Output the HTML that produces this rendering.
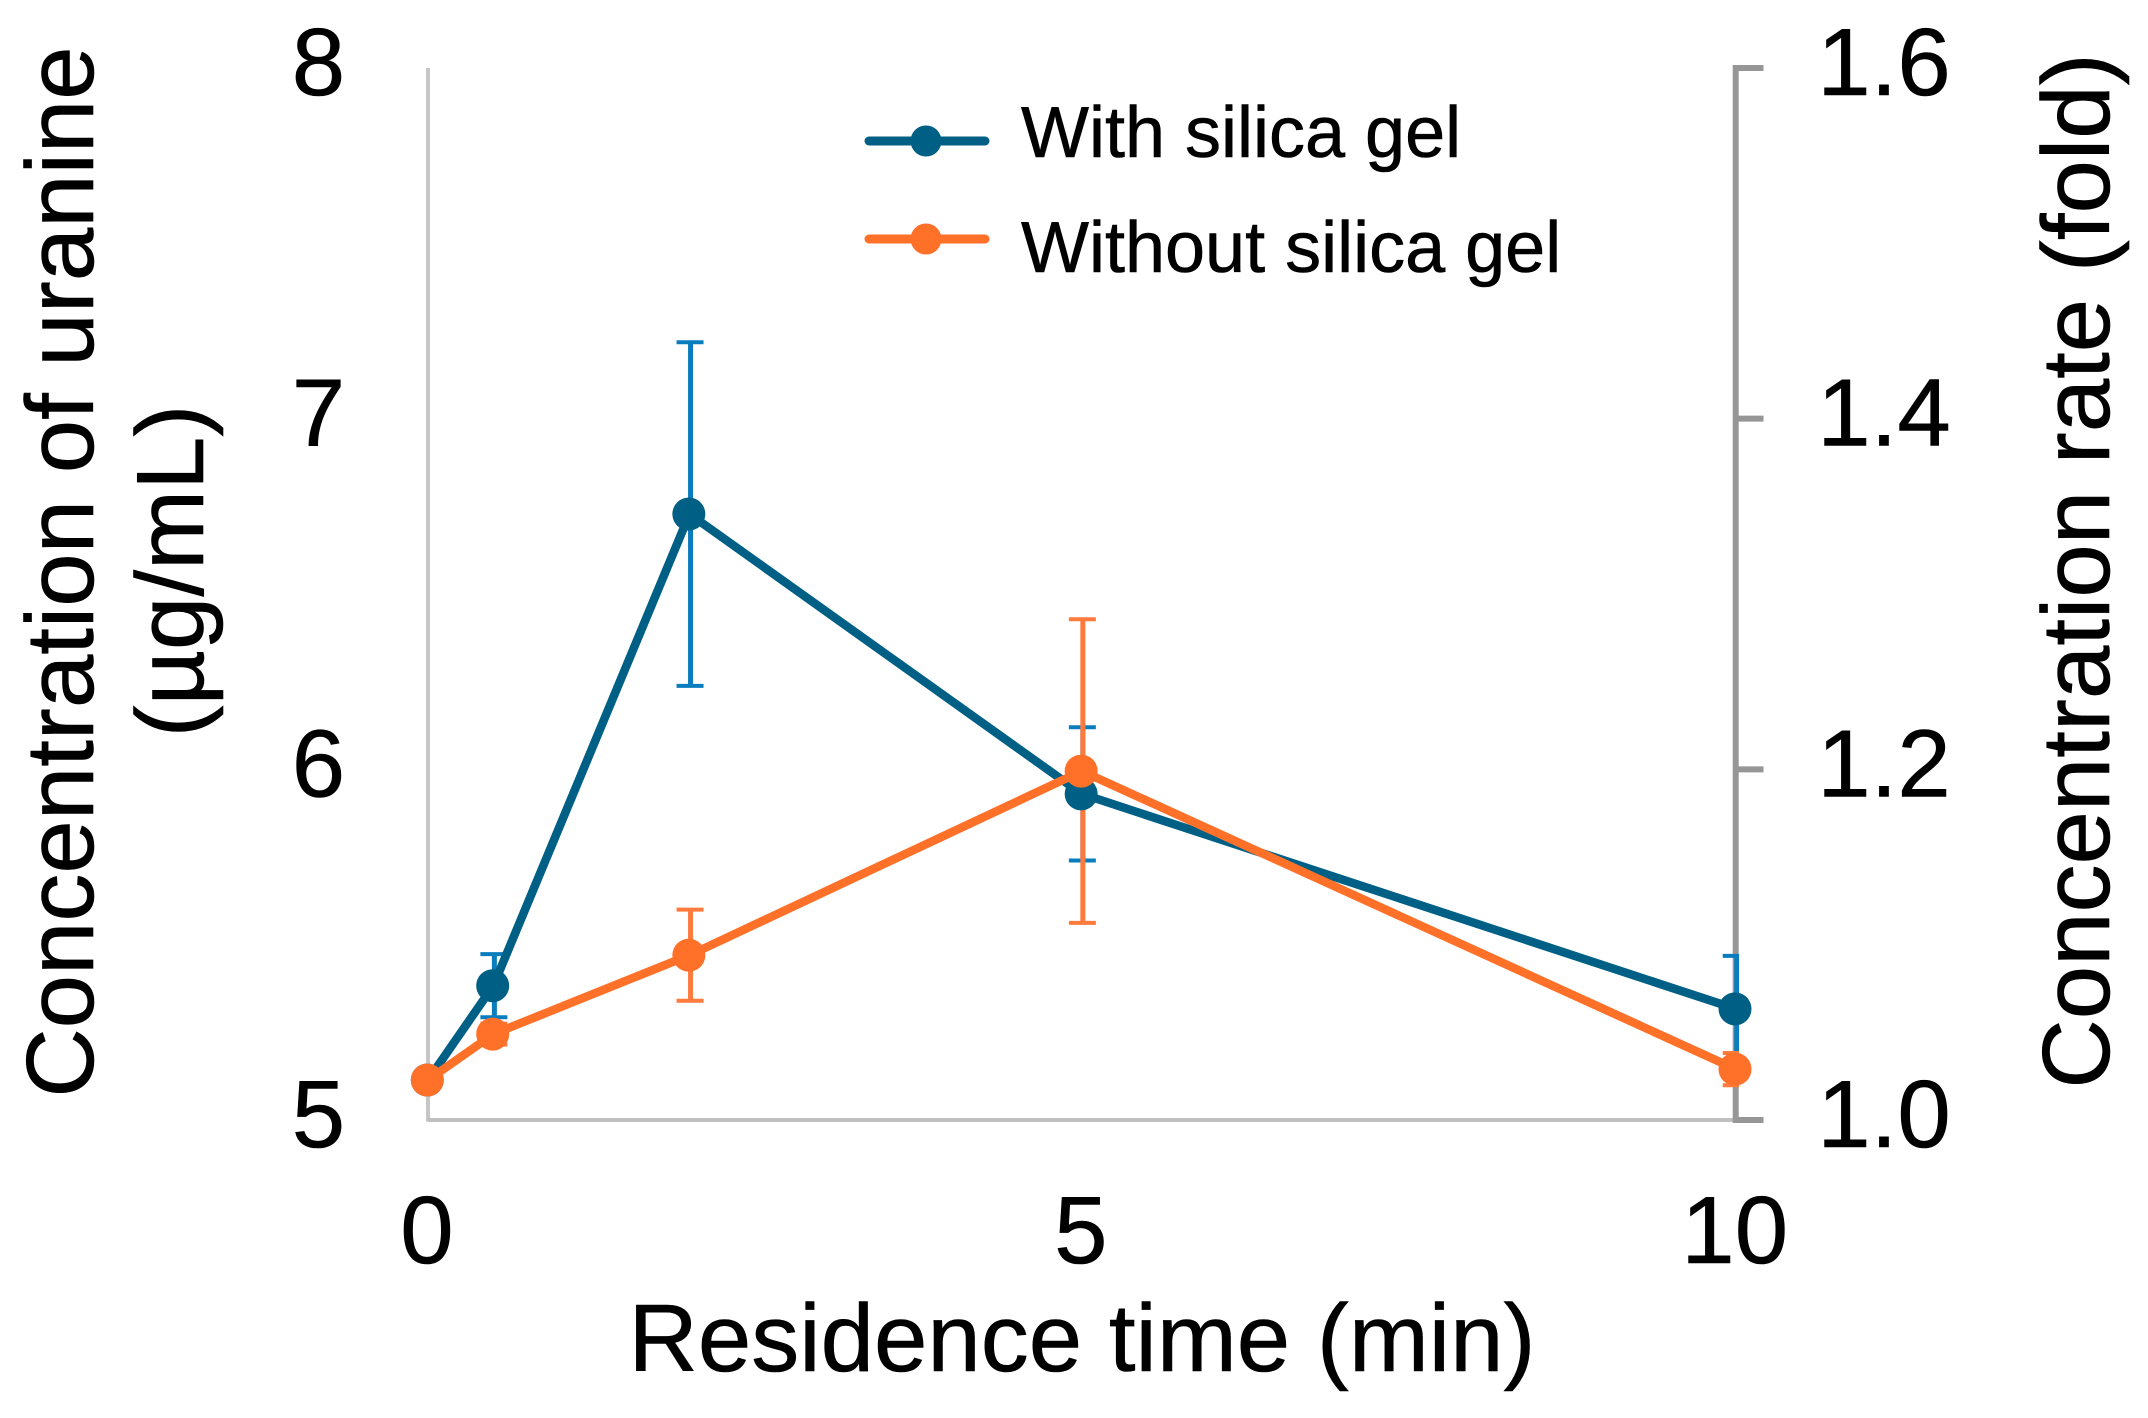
<!DOCTYPE html>
<html lang="en">
<head>
<meta charset="utf-8">
<title>Concentration of uranine vs residence time</title>
<style>
html,body{margin:0;padding:0;background:#fff;}
svg{display:block;}
text{font-family:"Liberation Sans",Arial,sans-serif;fill:#000;stroke:#000;stroke-width:0.6px;}
</style>
</head>
<body>
<svg id="chart" width="2148" height="1418" viewBox="0 0 2148 1418" xmlns="http://www.w3.org/2000/svg">
  <defs>
    <clipPath id="plot-clip"><rect x="380" y="0" width="1359" height="1418"/></clipPath>
  </defs>
  <rect x="0" y="0" width="2148" height="1418" fill="#ffffff"/>
  <g id="axes"></g>
  <g id="errors" clip-path="url(#plot-clip)"></g>
  <g id="series"></g>
  <g id="tick-labels" font-size="96"></g>

  <text transform="translate(93,572) rotate(-90)" text-anchor="middle" font-size="96">Concentration of uranine</text>
  <text transform="translate(203,571) rotate(-90)" text-anchor="middle" font-size="96">(µg/mL)</text>
  <text transform="translate(2109,571) rotate(-90)" text-anchor="middle" font-size="96">Concentration rate (fold)</text>
  <text x="1082" y="1371" text-anchor="middle" font-size="96">Residence time (min)</text>

  <g>
    <g>
      <line x1="869" y1="141" x2="985" y2="141" stroke="#005f85" stroke-width="9" stroke-linecap="round"/>
      <circle cx="926" cy="141" r="15.5" fill="#005f85"/>
      <text x="1021" y="157" font-size="72">With silica gel</text>
    </g>
    <g>
      <line x1="869" y1="239" x2="985" y2="239" stroke="#ff7029" stroke-width="9" stroke-linecap="round"/>
      <circle cx="926" cy="239" r="15.5" fill="#ff7029"/>
      <text x="1021" y="272" font-size="72">Without silica gel</text>
    </g>
  </g>
</svg>
<script>
var residenceTimes = [0, 0.5, 2, 5, 10];
var withSilica = [5.114, 5.383, 6.728, 5.93, 5.317];
var withoutSilica = [5.114, 5.245, 5.47, 5.995, 5.145];
var withSilicaError = [0, 0.09, 0.49, 0.19, 0.151];
var withoutSilicaError = [0, 0.03, 0.13, 0.433, 0.046];
var xTicks = [0, 5, 10];
var leftTicks = [5, 6, 7, 8];
var rightTicks = [1.0, 1.2, 1.4, 1.6];

var NS = 'http://www.w3.org/2000/svg';
var plotLeft = 428, plotRight = 1735.7, plotBottom = 1120, plotTop = 68;
function xScale(v) { return plotLeft + (v - 0) / (10 - 0) * (plotRight - plotLeft); }
function yScale(v) { return plotBottom - (v - 5) / (8 - 5) * (plotBottom - plotTop); }
function rateScale(v) { return plotBottom - (v - 1) / (1.6 - 1) * (plotBottom - plotTop); }

function svgEl(tag, parentId) {
  var el = document.createElementNS(NS, tag);
  document.getElementById(parentId).appendChild(el);
  return el;
}
function segment(parentId, x1, y1, x2, y2, color, width) {
  var l = svgEl('line', parentId);
  l.setAttribute('x1', x1);
  l.setAttribute('y1', y1);
  l.setAttribute('x2', x2);
  l.setAttribute('y2', y2);
  l.setAttribute('stroke', color);
  l.setAttribute('stroke-width', width);
  return l;
}

// Axes
var leftAxis = segment('axes', plotLeft, plotTop, plotLeft, plotBottom + 1.5, '#c6c6c6', 4);


var bottomAxis = segment('axes', plotLeft, plotBottom, plotRight, plotBottom, '#bfbfbf', 4);


var rightAxis = segment('axes', plotRight, plotTop - 3, plotRight, plotBottom + 3, '#969696', 6);



rightTicks.forEach(function (t) {
  var y = rateScale(t);
  var mark = segment('axes', plotRight, y, 1763.5, y, '#969696', 6);
  
  
  var label = svgEl('text', 'tick-labels');
  label.setAttribute('x', 1884);
  label.setAttribute('y', y + 27);
  label.setAttribute('text-anchor', 'middle');
  label.textContent = t.toFixed(1);
  
  
});

leftTicks.forEach(function (t) {
  var label = svgEl('text', 'tick-labels');
  label.setAttribute('x', 318.5);
  label.setAttribute('y', yScale(t) + 27);
  label.setAttribute('text-anchor', 'middle');
  label.textContent = String(t);
  
  
});

xTicks.forEach(function (t) {
  var label = svgEl('text', 'tick-labels');
  label.setAttribute('x', xScale(t) - 1);
  label.setAttribute('y', 1263);
  label.setAttribute('text-anchor', 'middle');
  label.textContent = String(t);
  
  
});

// Error bars
function drawErrors(values, errors, color, name) {
  values.forEach(function (v, i) {
    if (!errors[i]) { return; }
    var x = xScale(residenceTimes[i]);
    var hi = yScale(v + errors[i]);
    var lo = yScale(v - errors[i]);
    var stem = segment('errors', x + 1, hi, x + 1, lo, color, 5);
    
    
    var capTop = segment('errors', x - 13, hi, x + 14, hi, color, 4);
    
    
    var capBottom = segment('errors', x - 13, lo, x + 14, lo, color, 4);
    
    
  });
}
drawErrors(withSilica, withSilicaError, '#0a7dbf', 'with-silica');
drawErrors(withoutSilica, withoutSilicaError, '#ff7a3d', 'without-silica');

// Series
function drawSeries(values, color, name) {
  var line = svgEl('polyline', 'series');
  line.setAttribute('points', values.map(function (v, i) {
    return xScale(residenceTimes[i]) + ',' + yScale(v);
  }).join(' '));
  line.setAttribute('fill', 'none');
  line.setAttribute('stroke', color);
  line.setAttribute('stroke-width', 8.5);
  line.setAttribute('stroke-linejoin', 'round');
  
  
  values.forEach(function (v, i) {
    var dot = svgEl('circle', 'series');
    dot.setAttribute('cx', xScale(residenceTimes[i]) - 0.7);
    dot.setAttribute('cy', yScale(v));
    dot.setAttribute('r', 16.5);
    dot.setAttribute('fill', color);
    
    
  });
}
drawSeries(withSilica, '#005f85', 'with-silica');
drawSeries(withoutSilica, '#ff7029', 'without-silica');
</script>
</body>
</html>
